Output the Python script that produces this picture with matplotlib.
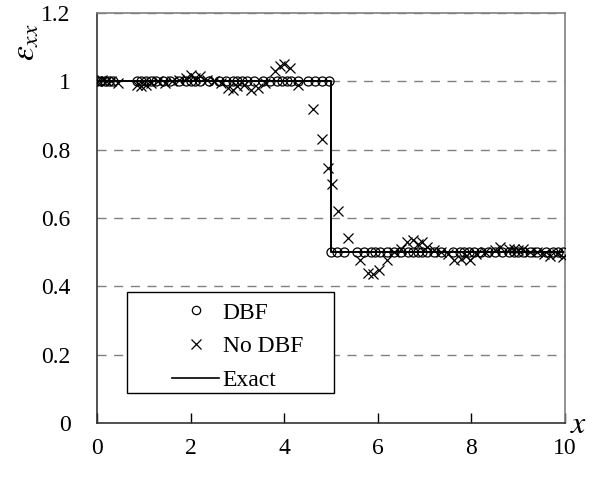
import matplotlib
matplotlib.use("Agg")
import matplotlib.pyplot as plt
from matplotlib.patches import Rectangle
from matplotlib.lines import Line2D

# =========================
# DATA
# =========================
# DBF solution (particles)
dbf_x = [0.0, 0.08, 0.17, 0.25, 0.35, 0.85, 0.95, 1.05, 1.15, 1.25, 1.4, 1.55,
         1.75, 1.9, 2.0, 2.1, 2.2, 2.4, 2.6, 2.75, 2.9, 3.0, 3.1, 3.2, 3.35,
         3.55, 3.7, 3.85, 3.95, 4.05, 4.15, 4.3, 4.5, 4.65, 4.8, 4.95,
         5.0, 5.12, 5.28, 5.55, 5.7, 5.85, 5.95, 6.05, 6.2, 6.35, 6.5, 6.65,
         6.75, 6.85, 6.95, 7.05, 7.2, 7.35, 7.6, 7.75, 7.85, 7.95, 8.05, 8.2,
         8.35, 8.5, 8.65, 8.8, 8.9, 9.0, 9.1, 9.25, 9.4, 9.6, 9.75, 9.85, 9.95]
dbf_y = [1.0, 1.0, 1.0, 1.0, 1.0, 1.0, 1.0, 1.0, 1.0, 1.0, 1.0, 1.0,
         1.0, 1.0, 1.0, 1.0, 1.0, 1.0, 1.0, 1.0, 1.0, 1.0, 1.0, 1.0, 1.0,
         1.0, 1.0, 1.0, 1.0, 1.0, 1.0, 1.0, 1.0, 1.0, 1.0, 1.0,
         0.5, 0.5, 0.5, 0.5, 0.5, 0.5, 0.5, 0.5, 0.5, 0.5, 0.5, 0.5,
         0.5, 0.5, 0.5, 0.5, 0.5, 0.5, 0.5, 0.5, 0.5, 0.5, 0.5, 0.5,
         0.5, 0.5, 0.5, 0.5, 0.5, 0.5, 0.5, 0.5, 0.5, 0.5, 0.5, 0.5, 0.5]

# without DBF
nodbf_x = [0.0, 0.1, 0.2, 0.3, 0.45, 0.85, 0.95, 1.05, 1.15, 1.3,
           1.45, 1.6, 1.75, 1.9, 2.0, 2.1, 2.2, 2.35, 2.5, 2.65,
           2.8, 2.9, 3.0, 3.15, 3.3, 3.45, 3.6, 3.8, 3.9, 4.0,
           4.12, 4.3, 4.62, 4.8, 4.94, 5.02, 5.15, 5.36, 5.62, 5.8,
           5.9, 6.02, 6.2, 6.35, 6.5, 6.62, 6.75, 6.85, 6.94, 7.05,
           7.2, 7.35, 7.5, 7.62, 7.78, 7.88, 7.97, 8.1, 8.3, 8.5,
           8.62, 8.8, 8.92, 9.0, 9.1, 9.25, 9.4, 9.55, 9.68, 9.82,
           9.96]
nodbf_y = [1.0, 1.005, 1.0, 1.0, 0.995, 0.99, 0.985, 0.99, 0.995, 1.0,
           0.995, 1.0, 1.005, 1.01, 1.02, 1.01, 1.015, 1.005, 1.0, 0.995,
           0.98, 0.975, 0.985, 0.99, 0.975, 0.98, 0.995, 1.03, 1.045, 1.05,
           1.04, 0.99, 0.92, 0.83, 0.745, 0.70, 0.62, 0.54, 0.478, 0.44,
           0.435, 0.447, 0.478, 0.50, 0.51, 0.53, 0.535, 0.525, 0.53, 0.515,
           0.505, 0.50, 0.495, 0.478, 0.48, 0.488, 0.478, 0.495, 0.50, 0.505,
           0.515, 0.51, 0.51, 0.505, 0.51, 0.50, 0.50, 0.495, 0.49, 0.495,
           0.485]

# exact step profile
exact_x = [0.0, 5.0, 5.0, 10.0]
exact_y = [1.0, 1.0, 0.5, 0.5]

xticks = [0, 2, 4, 6, 8, 10]
yticks = [0, 0.2, 0.4, 0.6, 0.8, 1.0, 1.2]
ytick_labels = ["0", "0.2", "0.4", "0.6", "0.8", "1", "1.2"]

# =========================
# PLOT
# =========================
plt.rcParams['font.family'] = ['Liberation Serif', 'DejaVu Serif']
plt.rcParams['mathtext.fontset'] = 'stix'

fs = 17

fig = plt.figure(figsize=(6.02, 4.79), dpi=100)
ax = fig.add_axes([97/602, 1 - 423/479, 468/602, 410/479])

ax.set_xlim(0, 10)
ax.set_ylim(0, 1.2)

for yv in yticks[1:]:
    ax.axhline(yv, color='#808080', lw=1.0, ls=(0, (6.5, 5.5)), zorder=0)

ax.plot(exact_x, exact_y, color='black', lw=1.4, zorder=2)
ax.plot(dbf_x, dbf_y, ls='none', marker='o', ms=6.5, mfc='none',
        mec='black', mew=0.9, zorder=3)
ax.plot(nodbf_x, nodbf_y, ls='none', marker='x', ms=7.5,
        color='black', mew=0.9, zorder=4)

ax.set_xticks(xticks)
ax.set_yticks(yticks)
ax.set_yticklabels(ytick_labels)
ax.tick_params(axis='x', direction='in', length=7, width=1, pad=11,
               labelsize=fs, colors='black')
ax.tick_params(axis='y', length=0, pad=19, labelsize=fs)

for side in ['left', 'bottom']:
    ax.spines[side].set_color('#333333')
    ax.spines[side].set_linewidth(1.2)
for side in ['top', 'right']:
    ax.spines[side].set_color('#808080')
    ax.spines[side].set_linewidth(1.2)

ax.text(1.03, -0.005, r'$x$', transform=ax.transAxes, fontsize=23,
        ha='center', va='center')
ax.text(-0.152, 0.93, r'$\varepsilon_{xx}$', transform=ax.transAxes,
        fontsize=24, rotation=90, ha='center', va='center')

# legend box
ax.add_patch(Rectangle((30/468, 30/410), 207/468, 101/410,
                       transform=ax.transAxes, fill=True, fc='white',
                       ec='black', lw=1.0, zorder=5))
handles = [
    Line2D([], [], ls='none', marker='o', ms=6, mfc='none', mec='black', mew=0.9),
    Line2D([], [], ls='none', marker='x', ms=7, color='black', mew=0.9),
    Line2D([], [], color='black', lw=1.2),
]
leg = ax.legend(handles, ['DBF', 'No DBF', 'Exact'], loc='upper left',
                bbox_to_anchor=((172 - 97) / 468, (423 - 302) / 410),
                frameon=False, fontsize=fs, handlelength=2.0,
                handletextpad=0.15, labelspacing=0.52, borderaxespad=0,
                borderpad=0)
leg.set_zorder(6)

fig.savefig("out.png", dpi=100)
